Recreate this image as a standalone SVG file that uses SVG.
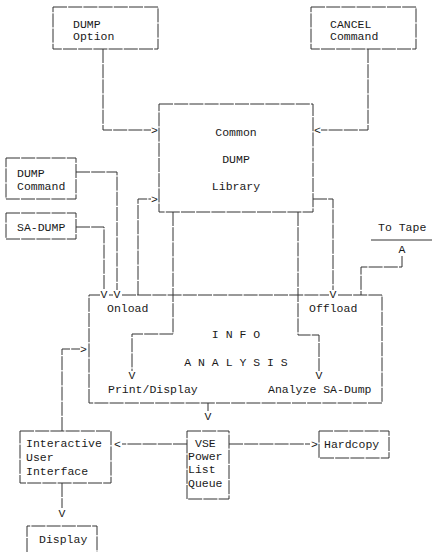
<svg xmlns="http://www.w3.org/2000/svg" width="432" height="552" viewBox="0 0 432 552">
<style>
.b{fill:none;stroke:#333;stroke-width:1;stroke-dasharray:14 1.2}
.c{fill:none;stroke:#333;stroke-width:1;stroke-dasharray:14 1.2}
text{font-family:"Liberation Mono","DejaVu Sans Mono",monospace;font-size:11.5px;fill:#1a1a1a}
.m{text-anchor:middle}
</style>
<rect width="432" height="552" fill="#fff"/>
<g id="dump-option"><rect class="b" x="53" y="7" width="105" height="42"/><text x="73" y="28">DUMP</text><text x="73" y="40">Option</text></g>
<g id="cancel-command"><rect class="b" x="311" y="7" width="105" height="42"/><text x="330" y="28">CANCEL</text><text x="330" y="40">Command</text></g>
<g id="library"><rect class="b" x="159" y="104" width="154" height="108"/><text class="m" x="236" y="136">Common</text><text class="m" x="236" y="163">DUMP</text><text class="m" x="236" y="190">Library</text></g>
<g id="dump-command"><rect class="b" x="6" y="158" width="70" height="41"/><text x="17" y="177">DUMP</text><text x="17" y="190">Command</text></g>
<g id="sa-dump"><rect class="b" x="6" y="213" width="70" height="26"/><text x="17" y="231">SA-DUMP</text></g>
<g id="to-tape"><text x="378" y="231">To Tape</text><line x1="371" y1="240" x2="432" y2="240" stroke="#333" stroke-width="1"/><text class="m" x="402" y="253">A</text></g>
<g id="info-analysis"><path class="b" d="M89 403V295H100M109 295H113M122 295H329M338 295H382V403H89"/><text x="107" y="312">Onload</text><text x="309" y="312">Offload</text><text class="m" x="236" y="338">I N F O</text><text class="m" x="236" y="366">A N A L Y S I S</text><text x="108" y="393">Print/Display</text><text x="268" y="393">Analyze SA-Dump</text></g>
<g id="interactive"><rect class="b" x="20" y="431" width="91" height="52"/><text x="26" y="447">Interactive</text><text x="26" y="461">User</text><text x="26" y="475">Interface</text></g>
<g id="vse"><rect class="b" x="187" y="431" width="42" height="68"/><text x="195" y="447">VSE</text><text x="188" y="460">Power</text><text x="188" y="473">List</text><text x="188" y="487">Queue</text></g>
<g id="hardcopy"><rect class="b" x="319" y="431" width="70" height="27"/><text x="324" y="448">Hardcopy</text></g>
<g id="display"><path class="b" d="M27 552V526H97V552"/><text x="39" y="543">Display</text></g>
<g id="connectors">
<path class="c" d="M103 49V130H151"/><text x="158" y="134" text-anchor="end">&gt;</text>
<path class="c" d="M368 49V130H321"/><text x="314" y="134">&lt;</text>
<path class="c" d="M76 172H117V290"/><text class="m" x="117" y="298">V</text>
<path class="c" d="M76 227H104V290"/><text class="m" x="104" y="298">V</text>
<path class="c" d="M138 295V199H151"/><text x="158" y="203" text-anchor="end">&gt;</text>
<path class="c" d="M173 212V334H132V371"/><text class="m" x="132" y="379">V</text>
<path class="c" d="M313 199H333V290"/><text class="m" x="333" y="298">V</text>
<path class="c" d="M298 212V335H319V371"/><text class="m" x="319" y="379">V</text>
<path class="c" d="M402 256V267H361V295"/>
<path class="c" d="M208 403V411"/><text class="m" x="208" y="420">V</text>
<path class="c" d="M62 431V349H80"/><text x="87" y="353" text-anchor="end">&gt;</text>
<path class="c" d="M187 444H122"/><text x="114" y="448">&lt;</text>
<path class="c" d="M229 444H310"/><text x="318" y="448" text-anchor="end">&gt;</text>
<path class="c" d="M62 483V508"/><text class="m" x="62" y="517">V</text>
</g>
</svg>
